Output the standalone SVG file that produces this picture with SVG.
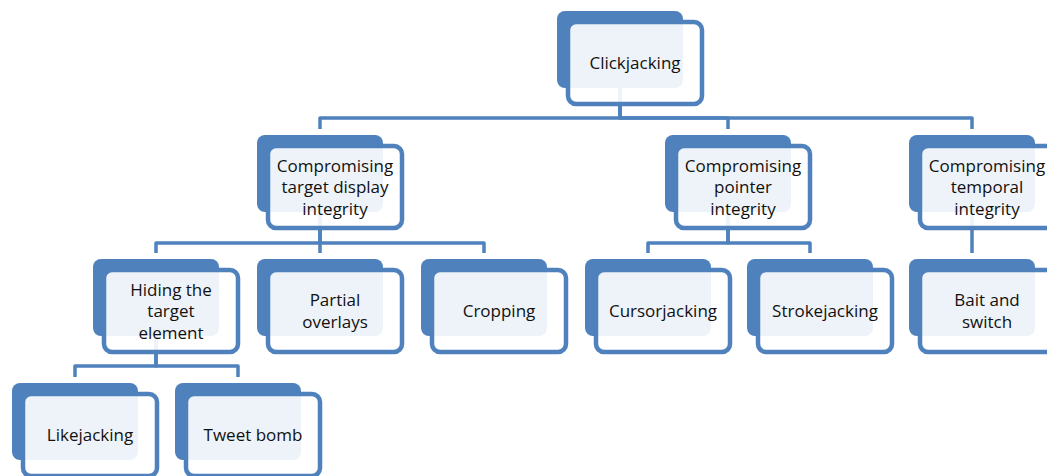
<svg xmlns="http://www.w3.org/2000/svg" width="1047" height="476" viewBox="0 0 1047 476">
  <style>
    .back { fill: #4F81BD; }
    .front { fill: #FFFFFF; fill-opacity: 0.9; stroke: #4F81BD; stroke-width: 4.5; }
    .label { font-family: "Open Sans", "Liberation Sans", sans-serif; font-size: 17px; fill: #111111; text-anchor: middle; }
    .link { fill: none; stroke: #4F81BD; stroke-width: 3.5; stroke-linejoin: round; stroke-linecap: butt; }
  </style>
  <rect width="1047" height="476" fill="#FFFFFF"/>

  <!-- elbow connectors, drawn beneath the nodes -->
  <g id="connectors">
    <path class="link" d="M620 88 V118 H320 V129"/>
    <path class="link" d="M620 88 V118 H728 V129"/>
    <path class="link" d="M620 88 V118 H972 V129"/>
    <path class="link" d="M320 212 V243 H156 V253"/>
    <path class="link" d="M320 212 V253"/>
    <path class="link" d="M320 212 V243 H484 V253"/>
    <path class="link" d="M728 212 V243 H648 V253"/>
    <path class="link" d="M728 212 V243 H810 V253"/>
    <path class="link" d="M972 212 V253"/>
    <path class="link" d="M156 336 V366 H75 V377"/>
    <path class="link" d="M156 336 V366 H238 V377"/>
  </g>

  <!-- each node: filled back card plus outlined front card -->
  <g id="clickjacking">
    <rect class="back" x="557" y="11" width="126" height="77" rx="8"/>
    <rect class="front" x="568" y="22" width="134" height="82" rx="8"/>
    <text class="label" x="635" y="69">Clickjacking</text>
  </g>

  <g id="target-display">
    <rect class="back" x="257" y="135" width="126" height="77" rx="8"/>
    <rect class="front" x="268" y="146" width="134" height="82" rx="8"/>
    <text class="label" x="335" y="171.5">Compromising</text>
    <text class="label" x="335" y="193">target display</text>
    <text class="label" x="335" y="214.5">integrity</text>
  </g>

  <g id="pointer">
    <rect class="back" x="665" y="135" width="126" height="77" rx="8"/>
    <rect class="front" x="676" y="146" width="134" height="82" rx="8"/>
    <text class="label" x="743" y="171.5">Compromising</text>
    <text class="label" x="743" y="193">pointer</text>
    <text class="label" x="743" y="214.5">integrity</text>
  </g>

  <g id="temporal">
    <rect class="back" x="909" y="135" width="126" height="77" rx="8"/>
    <rect class="front" x="920" y="146" width="134" height="82" rx="8"/>
    <text class="label" x="987" y="171.5">Compromising</text>
    <text class="label" x="987" y="193">temporal</text>
    <text class="label" x="987" y="214.5">integrity</text>
  </g>

  <g id="hiding">
    <rect class="back" x="93" y="259" width="126" height="77" rx="8"/>
    <rect class="front" x="104" y="270" width="134" height="82" rx="8"/>
    <text class="label" x="171" y="295.5">Hiding the</text>
    <text class="label" x="171" y="317">target</text>
    <text class="label" x="171" y="338.5">element</text>
  </g>

  <g id="partial">
    <rect class="back" x="257" y="259" width="126" height="77" rx="8"/>
    <rect class="front" x="268" y="270" width="134" height="82" rx="8"/>
    <text class="label" x="335" y="306">Partial</text>
    <text class="label" x="335" y="328">overlays</text>
  </g>

  <g id="cropping">
    <rect class="back" x="421" y="259" width="126" height="77" rx="8"/>
    <rect class="front" x="432" y="270" width="134" height="82" rx="8"/>
    <text class="label" x="499" y="317">Cropping</text>
  </g>

  <g id="cursorjacking">
    <rect class="back" x="585" y="259" width="126" height="77" rx="8"/>
    <rect class="front" x="596" y="270" width="134" height="82" rx="8"/>
    <text class="label" x="663" y="317">Cursorjacking</text>
  </g>

  <g id="strokejacking">
    <rect class="back" x="747" y="259" width="126" height="77" rx="8"/>
    <rect class="front" x="758" y="270" width="134" height="82" rx="8"/>
    <text class="label" x="825" y="317">Strokejacking</text>
  </g>

  <g id="bait-switch">
    <rect class="back" x="909" y="259" width="126" height="77" rx="8"/>
    <rect class="front" x="920" y="270" width="134" height="82" rx="8"/>
    <text class="label" x="987" y="306">Bait and</text>
    <text class="label" x="987" y="328">switch</text>
  </g>

  <g id="likejacking">
    <rect class="back" x="12" y="383" width="126" height="77" rx="8"/>
    <rect class="front" x="23" y="394" width="134" height="82" rx="8"/>
    <text class="label" x="90" y="441">Likejacking</text>
  </g>

  <g id="tweet-bomb">
    <rect class="back" x="175" y="383" width="126" height="77" rx="8"/>
    <rect class="front" x="186" y="394" width="134" height="82" rx="8"/>
    <text class="label" x="253" y="441">Tweet bomb</text>
  </g>
</svg>
